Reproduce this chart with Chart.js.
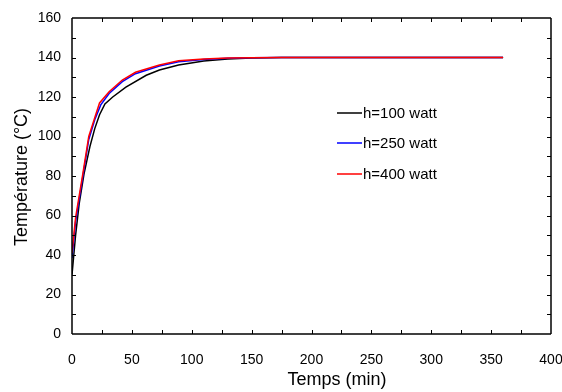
<!DOCTYPE html>
<html>
<head>
<meta charset="utf-8">
<script src="https://cdn.jsdelivr.net/npm/chart.js@4"></script>
<style>
  html, body { margin: 0; padding: 0; background: #fff; overflow: hidden; }
  #wrap { width: 562px; height: 392px; }
</style>
</head>
<body>
<div id="wrap"><canvas id="chart"></canvas></div>
<script>
// Temperature vs time, three heat inputs
const time100 = [0, 3, 6, 10, 15, 19, 23, 27.5, 34, 45, 62, 73, 89, 110, 130, 150, 175, 200, 360];
const temp100 = [30, 50, 66, 81, 95, 104, 111, 116.5, 120, 125, 131, 133.7, 136.2, 138.2, 139.2, 139.7, 140, 140, 140];

const time250 = [0, 3, 9, 14, 19, 24, 31, 42, 53, 73, 89, 110, 130, 150, 175, 200, 360];
const temp250 = [38.5, 57, 79.5, 98.5, 108.5, 116, 121.8, 127.8, 131.8, 135.7, 137.9, 139, 139.6, 139.9, 140, 140, 140];

const time400 = [0, 3, 9, 14, 19, 23, 31, 42, 53, 73, 89, 110, 130, 150, 175, 200, 360];
const temp400 = [41, 59, 81, 100, 109.5, 117, 122.7, 128.6, 132.5, 136.2, 138.3, 139.3, 139.7, 139.9, 140, 140, 140];

const seriesLabels = ["h=100 watt", "h=250 watt", "h=400 watt"];
const seriesColors = ["#000000", "#0000ff", "#ff0000"];

const xMax = 400, xMajor = 50, xMinor = 25;
const yMax = 160, yMajor = 20, yMinor = 10;

const fam = "'Liberation Sans', Arial, sans-serif";

function toPoints(xs, ys) {
  return xs.map((x, i) => ({ x: x, y: ys[i] }));
}

function seg(ctx, x1, y1, x2, y2) {
  ctx.beginPath();
  ctx.moveTo(x1, y1);
  ctx.lineTo(x2, y2);
  ctx.stroke();
}

// frame, inward ticks, axis titles and legend like the original plot
const framePlugin = {
  id: "frame",
  afterDraw(chart) {
    const { ctx, chartArea: a, scales } = chart;
    const L = Math.round(a.left), R = Math.round(a.right);
    const T = Math.round(a.top), B = Math.round(a.bottom);
    ctx.save();
    ctx.strokeStyle = "#000";
    ctx.lineWidth = 1.5;
    seg(ctx, L, T, R, T);
    seg(ctx, R, T, R, B);
    seg(ctx, L, B, R, B);
    seg(ctx, L, T, L, B);
    ctx.lineWidth = 1;
    for (let v = xMinor; v < xMax; v += xMinor) {
      const px = Math.round(scales.x.getPixelForValue(v)) + 0.5;
      seg(ctx, px, B, px, B - 4);
      seg(ctx, px, T, px, T + 4);
    }
    for (let v = yMinor; v < yMax; v += yMinor) {
      const py = Math.round(scales.y.getPixelForValue(v)) + 0.5;
      seg(ctx, L, py, L + 4, py);
      seg(ctx, R, py, R - 4, py);
    }

    ctx.fillStyle = "#000";
    ctx.textAlign = "center";
    ctx.textBaseline = "middle";
    ctx.font = "18px " + fam;
    ctx.fillText("Temps (min)", 337, 380);
    ctx.save();
    ctx.translate(22, 177);
    ctx.rotate(-Math.PI / 2);
    ctx.fillText("Température (°C)", 0, 0);
    ctx.restore();

    // legend inside the plot
    const legendY = [113, 143, 174];
    ctx.font = "15px " + fam;
    ctx.textAlign = "left";
    ctx.lineWidth = 1.5;
    seriesLabels.forEach((lab, i) => {
      ctx.strokeStyle = seriesColors[i];
      seg(ctx, 337, legendY[i], 362, legendY[i]);
      ctx.fillText(lab, 363, legendY[i] + 1);
    });
    ctx.restore();
  }
};

const tickFont = { family: fam, size: 14 };

new Chart(document.getElementById("chart"), {
  type: "line",
  data: {
    datasets: [
      { label: seriesLabels[0], data: toPoints(time100, temp100), borderColor: seriesColors[0], order: 3 },
      { label: seriesLabels[1], data: toPoints(time250, temp250), borderColor: seriesColors[1], order: 2 },
      { label: seriesLabels[2], data: toPoints(time400, temp400), borderColor: seriesColors[2], order: 1 }
    ]
  },
  options: {
    responsive: true,
    maintainAspectRatio: false,
    animation: false,
    datasets: { line: { borderWidth: 1.5, pointRadius: 0, tension: 0, fill: false } },
    layout: { padding: { top: 18, left: 0, right: 11, bottom: 0 } },
    plugins: { legend: { display: false }, tooltip: { enabled: false } },
    scales: {
      x: {
        type: "linear",
        min: 0, max: xMax,
        border: { display: false },
        grid: { display: false },
        ticks: { stepSize: xMajor, color: "#000", font: tickFont, padding: 10, maxRotation: 0, autoSkip: false },
        afterFit(scale) { scale.height = 58; scale.paddingRight = 0; scale.paddingLeft = 0; }
      },
      y: {
        min: 0, max: yMax,
        border: { display: false },
        grid: { display: false },
        ticks: { stepSize: yMajor, color: "#000", font: tickFont, padding: 3 },
        afterFit(scale) { scale.width = 72; scale.paddingTop = 0; scale.paddingBottom = 0; }
      }
    }
  },
  plugins: [framePlugin]
});
</script>
</body>
</html>
